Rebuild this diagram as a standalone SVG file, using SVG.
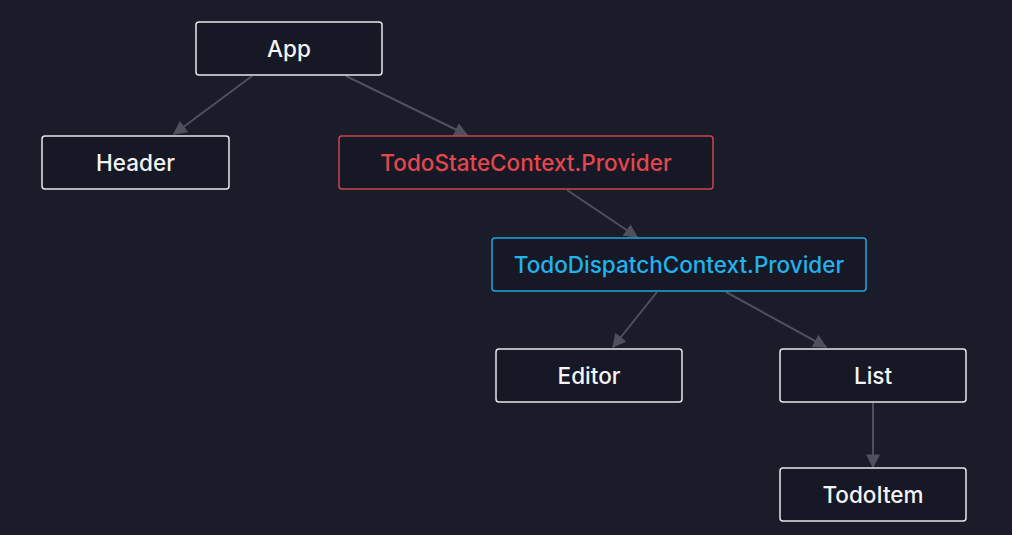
<svg xmlns="http://www.w3.org/2000/svg" width="1012" height="535" viewBox="0 0 1012 535">
<defs>
<style>
.box{fill:#171825;stroke:#e6e6ea;stroke-width:1.5}
.red{stroke:#cc444b}
.blue{stroke:#1ea5e0}
.t{font-family:Inter,"Noto Sans","Liberation Sans",sans-serif;font-size:22.5px;font-weight:500;fill:#f4f4f6;text-anchor:middle}
.tr{fill:#e2474e}
.tb{fill:#22b2ec}
.edge{stroke:#4f505d;stroke-width:2;fill:none;marker-end:url(#ah)}
</style>
<marker id="ah" viewBox="0 0 10 10" refX="9" refY="5" markerWidth="7" markerHeight="7" orient="auto" markerUnits="strokeWidth">
<path d="M0,0 L10,5 L0,10 Z" fill="#4f505d"/>
</marker>
</defs>
<rect width="1012" height="535" fill="#1b1c2a"/>
<g id="edges">
<line class="edge" x1="252" y1="76" x2="174" y2="134"/>
<line class="edge" x1="346" y1="76" x2="467" y2="135"/>
<line class="edge" x1="567" y1="190" x2="637" y2="237"/>
<line class="edge" x1="657" y1="292" x2="613" y2="347"/>
<line class="edge" x1="726" y1="292" x2="826" y2="347"/>
<line class="edge" x1="873" y1="403" x2="873" y2="467"/>
</g>
<g id="app"><rect class="box" x="196" y="22" width="186" height="53" rx="3"/><text class="t" x="289" y="56.5">App</text></g>
<g id="header"><rect class="box" x="42" y="136" width="187" height="53" rx="3"/><text class="t" x="135.5" y="170.5">Header</text></g>
<g id="todostate"><rect class="box red" x="339" y="136" width="374" height="53" rx="3"/><text class="t tr" x="526" y="170.5">TodoStateContext.Provider</text></g>
<g id="todedispatch"><rect class="box blue" x="492" y="238" width="374" height="53" rx="3"/><text class="t tb" x="679" y="272.5">TodoDispatchContext.Provider</text></g>
<g id="editor"><rect class="box" x="496" y="349" width="186" height="53" rx="3"/><text class="t" x="589" y="383.5">Editor</text></g>
<g id="list"><rect class="box" x="780" y="349" width="186" height="53" rx="3"/><text class="t" x="873" y="383.5">List</text></g>
<g id="todoitem"><rect class="box" x="780" y="468" width="186" height="53" rx="3"/><text class="t" x="873" y="502.5">TodoItem</text></g>
</svg>
